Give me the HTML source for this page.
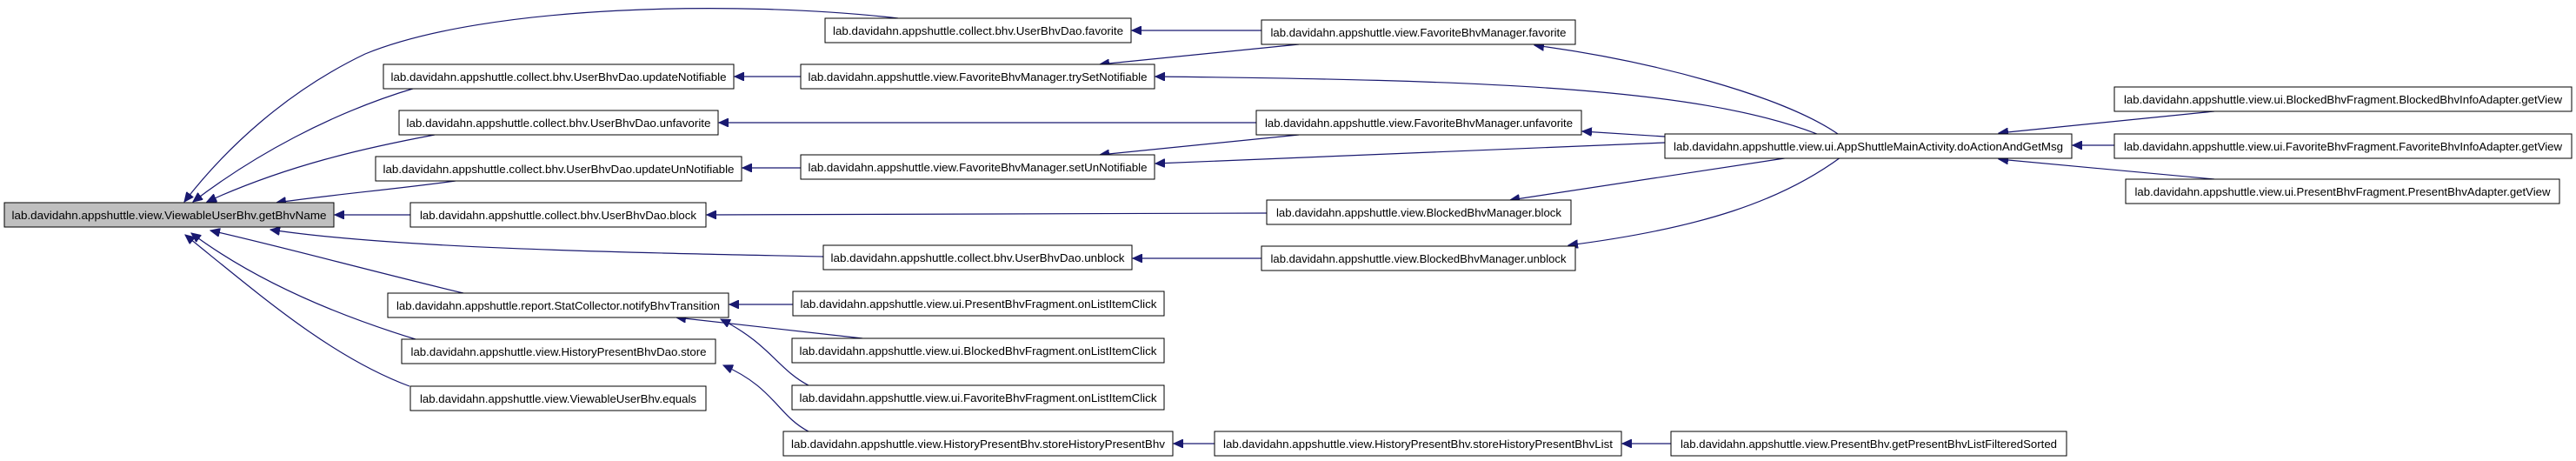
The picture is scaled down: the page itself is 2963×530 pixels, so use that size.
<!DOCTYPE html>
<html><head><meta charset="utf-8"><style>
html,body{margin:0;padding:0;background:#fff;}
svg{display:block;}
text{font-family:"Liberation Sans",sans-serif;font-size:13px;fill:#000;}
rect{stroke:#000;stroke-width:1;fill:#fff;}
path.e{fill:none;stroke:#191970;stroke-width:1.2;}
</style></head><body>
<svg width="2963" height="530" viewBox="0 0 2963 530" xmlns="http://www.w3.org/2000/svg">
<defs><marker id="a" markerWidth="12" markerHeight="10" refX="11" refY="5" orient="auto" markerUnits="userSpaceOnUse"><path d="M0,0 L11,5 L0,10 z" fill="#191970" stroke="#191970"/></marker></defs>
<g>
<path class="e" marker-end="url(#a)" d="M1033,21 C850,0 560,5 420,62 C330,105 260,170 212,232"/>
<path class="e" marker-end="url(#a)" d="M478,101 C380,130 290,180 222,232"/>
<path class="e" marker-end="url(#a)" d="M500,155 C420,170 330,190 238,232"/>
<path class="e" marker-end="url(#a)" d="M524,208 C450,218 380,224 318,233"/>
<path class="e" marker-end="url(#a)" d="M472,247 L385,247"/>
<path class="e" marker-end="url(#a)" d="M947,295 C700,290 450,285 311,264"/>
<path class="e" marker-end="url(#a)" d="M533,337 C420,310 330,285 242,265"/>
<path class="e" marker-end="url(#a)" d="M478,390 C380,360 290,320 220,268"/>
<path class="e" marker-end="url(#a)" d="M471,444 C380,410 300,340 213,270"/>
<path class="e" marker-end="url(#a)" d="M1451,35 L1302,35"/>
<path class="e" marker-end="url(#a)" d="M921,88 L845,88"/>
<path class="e" marker-end="url(#a)" d="M1494,51 L1265,74"/>
<path class="e" marker-end="url(#a)" d="M1445,141 L827,141"/>
<path class="e" marker-end="url(#a)" d="M921,193 L854,193"/>
<path class="e" marker-end="url(#a)" d="M1494,155 L1265,178"/>
<path class="e" marker-end="url(#a)" d="M1457,245 L813,247"/>
<path class="e" marker-end="url(#a)" d="M1451,297 L1303,297"/>
<path class="e" marker-end="url(#a)" d="M912,350 L839,350"/>
<path class="e" marker-end="url(#a)" d="M992,389 L778,365"/>
<path class="e" marker-end="url(#a)" d="M930,443 C895,425 885,395 829,367"/>
<path class="e" marker-end="url(#a)" d="M930,496 C895,478 890,445 832,420"/>
<path class="e" marker-end="url(#a)" d="M1397,510 L1350,510"/>
<path class="e" marker-end="url(#a)" d="M1922,510 L1866,510"/>
<path class="e" marker-end="url(#a)" d="M2114,154 C2050,110 1900,70 1765,52"/>
<path class="e" marker-end="url(#a)" d="M2090,154 C1950,100 1700,92 1329,88"/>
<path class="e" marker-end="url(#a)" d="M1915,157 L1820,151"/>
<path class="e" marker-end="url(#a)" d="M1915,164 L1329,188"/>
<path class="e" marker-end="url(#a)" d="M2059,181 L1737,230"/>
<path class="e" marker-end="url(#a)" d="M2117,181 C2050,230 1960,262 1804,282"/>
<path class="e" marker-end="url(#a)" d="M2547,128 L2299,153"/>
<path class="e" marker-end="url(#a)" d="M2432,167 L2384,167"/>
<path class="e" marker-end="url(#a)" d="M2547,206 L2299,183"/>
</g>
<g>
<rect x="5" y="233" width="379" height="28" style="fill:#bfbfbf"/><text x="194.5" y="252" text-anchor="middle" textLength="362" lengthAdjust="spacingAndGlyphs">lab.davidahn.appshuttle.view.ViewableUserBhv.getBhvName</text>
<rect x="441" y="74" width="403" height="28"/><text x="642.5" y="93" text-anchor="middle" textLength="386" lengthAdjust="spacingAndGlyphs">lab.davidahn.appshuttle.collect.bhv.UserBhvDao.updateNotifiable</text>
<rect x="459" y="127" width="367" height="28"/><text x="642.5" y="146" text-anchor="middle" textLength="350" lengthAdjust="spacingAndGlyphs">lab.davidahn.appshuttle.collect.bhv.UserBhvDao.unfavorite</text>
<rect x="432" y="180" width="421" height="28"/><text x="642.5" y="199" text-anchor="middle" textLength="404" lengthAdjust="spacingAndGlyphs">lab.davidahn.appshuttle.collect.bhv.UserBhvDao.updateUnNotifiable</text>
<rect x="472" y="233" width="340" height="28"/><text x="642" y="252" text-anchor="middle" textLength="318" lengthAdjust="spacingAndGlyphs">lab.davidahn.appshuttle.collect.bhv.UserBhvDao.block</text>
<rect x="446" y="337" width="392" height="28"/><text x="642" y="356" text-anchor="middle" textLength="372" lengthAdjust="spacingAndGlyphs">lab.davidahn.appshuttle.report.StatCollector.notifyBhvTransition</text>
<rect x="462" y="390" width="361" height="28"/><text x="642.5" y="409" text-anchor="middle" textLength="340" lengthAdjust="spacingAndGlyphs">lab.davidahn.appshuttle.view.HistoryPresentBhvDao.store</text>
<rect x="472" y="444" width="340" height="28"/><text x="642" y="463" text-anchor="middle" textLength="318" lengthAdjust="spacingAndGlyphs">lab.davidahn.appshuttle.view.ViewableUserBhv.equals</text>
<rect x="949" y="21" width="352" height="28"/><text x="1125" y="40" text-anchor="middle" textLength="334" lengthAdjust="spacingAndGlyphs">lab.davidahn.appshuttle.collect.bhv.UserBhvDao.favorite</text>
<rect x="947" y="282" width="355" height="28"/><text x="1124.5" y="301" text-anchor="middle" textLength="338" lengthAdjust="spacingAndGlyphs">lab.davidahn.appshuttle.collect.bhv.UserBhvDao.unblock</text>
<rect x="921" y="74" width="407" height="28"/><text x="1124.5" y="93" text-anchor="middle" textLength="390" lengthAdjust="spacingAndGlyphs">lab.davidahn.appshuttle.view.FavoriteBhvManager.trySetNotifiable</text>
<rect x="921" y="178" width="407" height="28"/><text x="1124.5" y="197" text-anchor="middle" textLength="390" lengthAdjust="spacingAndGlyphs">lab.davidahn.appshuttle.view.FavoriteBhvManager.setUnNotifiable</text>
<rect x="912" y="335" width="427" height="28"/><text x="1125.5" y="354" text-anchor="middle" textLength="410" lengthAdjust="spacingAndGlyphs">lab.davidahn.appshuttle.view.ui.PresentBhvFragment.onListItemClick</text>
<rect x="911" y="389" width="428" height="28"/><text x="1125" y="408" text-anchor="middle" textLength="411" lengthAdjust="spacingAndGlyphs">lab.davidahn.appshuttle.view.ui.BlockedBhvFragment.onListItemClick</text>
<rect x="911" y="443" width="428" height="28"/><text x="1125" y="462" text-anchor="middle" textLength="411" lengthAdjust="spacingAndGlyphs">lab.davidahn.appshuttle.view.ui.FavoriteBhvFragment.onListItemClick</text>
<rect x="901" y="496" width="448" height="28"/><text x="1125" y="515" text-anchor="middle" textLength="430" lengthAdjust="spacingAndGlyphs">lab.davidahn.appshuttle.view.HistoryPresentBhv.storeHistoryPresentBhv</text>
<rect x="1451" y="23" width="361" height="28"/><text x="1631.5" y="42" text-anchor="middle" textLength="340" lengthAdjust="spacingAndGlyphs">lab.davidahn.appshuttle.view.FavoriteBhvManager.favorite</text>
<rect x="1445" y="127" width="374" height="28"/><text x="1632" y="146" text-anchor="middle" textLength="354" lengthAdjust="spacingAndGlyphs">lab.davidahn.appshuttle.view.FavoriteBhvManager.unfavorite</text>
<rect x="1457" y="230" width="350" height="28"/><text x="1632" y="249" text-anchor="middle" textLength="328" lengthAdjust="spacingAndGlyphs">lab.davidahn.appshuttle.view.BlockedBhvManager.block</text>
<rect x="1451" y="283" width="361" height="28"/><text x="1631.5" y="302" text-anchor="middle" textLength="340" lengthAdjust="spacingAndGlyphs">lab.davidahn.appshuttle.view.BlockedBhvManager.unblock</text>
<rect x="1397" y="496" width="468" height="28"/><text x="1631" y="515" text-anchor="middle" textLength="448" lengthAdjust="spacingAndGlyphs">lab.davidahn.appshuttle.view.HistoryPresentBhv.storeHistoryPresentBhvList</text>
<rect x="1915" y="154" width="468" height="28"/><text x="2149" y="173" text-anchor="middle" textLength="448" lengthAdjust="spacingAndGlyphs">lab.davidahn.appshuttle.view.ui.AppShuttleMainActivity.doActionAndGetMsg</text>
<rect x="1922" y="496" width="455" height="28"/><text x="2149.5" y="515" text-anchor="middle" textLength="433" lengthAdjust="spacingAndGlyphs">lab.davidahn.appshuttle.view.PresentBhv.getPresentBhvListFilteredSorted</text>
<rect x="2432" y="100" width="526" height="28"/><text x="2695" y="119" text-anchor="middle" textLength="504" lengthAdjust="spacingAndGlyphs">lab.davidahn.appshuttle.view.ui.BlockedBhvFragment.BlockedBhvInfoAdapter.getView</text>
<rect x="2432" y="154" width="526" height="28"/><text x="2695" y="173" text-anchor="middle" textLength="504" lengthAdjust="spacingAndGlyphs">lab.davidahn.appshuttle.view.ui.FavoriteBhvFragment.FavoriteBhvInfoAdapter.getView</text>
<rect x="2445" y="206" width="499" height="28"/><text x="2694.5" y="225" text-anchor="middle" textLength="478" lengthAdjust="spacingAndGlyphs">lab.davidahn.appshuttle.view.ui.PresentBhvFragment.PresentBhvAdapter.getView</text>
</g>
</svg>
</body></html>
